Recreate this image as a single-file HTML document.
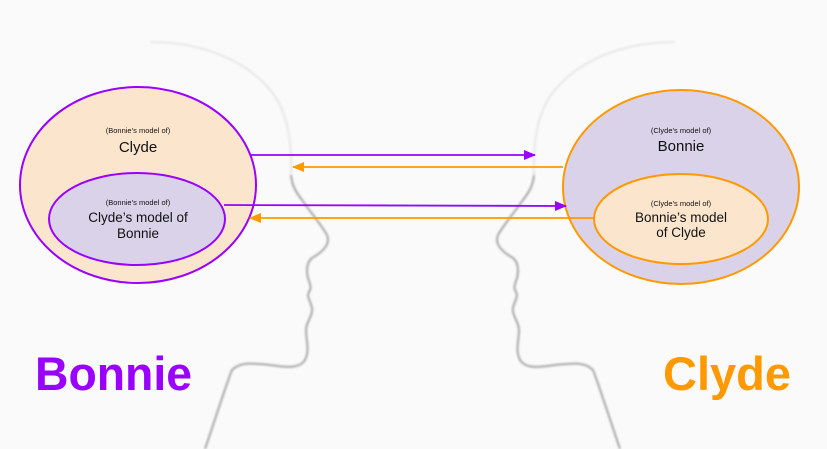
<!DOCTYPE html>
<html><head><style>
html,body{margin:0;padding:0;background:#fafafa;}
svg{display:block;}
text{font-family:"Liberation Sans",sans-serif;}
</style></head><body>
<svg width="827" height="449" viewBox="0 0 827 449" xmlns="http://www.w3.org/2000/svg">
<defs>
<filter id="bl" x="-20%" y="-20%" width="140%" height="140%"><feGaussianBlur stdDeviation="1"/></filter>
<marker id="mp" markerWidth="12" markerHeight="10" refX="11" refY="5" orient="auto" markerUnits="userSpaceOnUse"><path d="M0,0 L12,5 L0,10 Z" fill="#9900ff"/></marker>
<marker id="mo" markerWidth="12" markerHeight="10" refX="11" refY="5" orient="auto" markerUnits="userSpaceOnUse"><path d="M0,0 L12,5 L0,10 Z" fill="#ff9900"/></marker>
<g id="head">
<path d="M150,42 C205,42 250,62 274,95 C290,118 292,150 291,175" fill="none" stroke="#e2e2e2" stroke-width="1.6" filter="url(#bl)"/>
<path d="M291,175 C292,186 296,192 302,200 C312,214 322,226 327,235 C330,242 326,250 312,258 C307,262 306,270 308,278 C310,284 312,288 309,292 C306,296 311,302 312,308 C313,316 306,322 306,330 C306,340 310,350 305,360 C300,368 290,368 270,365 C250,363 240,362 232,370 C226,385 215,420 205,449" fill="none" stroke="#8a8a8a" stroke-width="1.5" filter="url(#bl)"/>
</g>
</defs>
<use href="#head"/>
<use href="#head" transform="translate(825,0) scale(-1,1)"/>

<ellipse cx="138" cy="185" rx="118" ry="98" fill="#fce5cd" stroke="#9900ff" stroke-width="2"/>
<ellipse cx="137" cy="219" rx="88" ry="46" fill="#d9d2e9" stroke="#9900ff" stroke-width="2"/>
<ellipse cx="681" cy="187" rx="118" ry="97" fill="#d9d2e9" stroke="#ff9900" stroke-width="2"/>
<ellipse cx="681" cy="219" rx="87" ry="45" fill="#fce5cd" stroke="#ff9900" stroke-width="2"/>

<line x1="251" y1="155" x2="535" y2="155" stroke="#9900ff" stroke-width="1.8" marker-end="url(#mp)"/>
<line x1="563" y1="167" x2="293" y2="167" stroke="#ff9900" stroke-width="1.8" marker-end="url(#mo)"/>
<line x1="224" y1="205" x2="566" y2="206" stroke="#9900ff" stroke-width="1.8" marker-end="url(#mp)"/>
<line x1="594" y1="218" x2="250" y2="218" stroke="#ff9900" stroke-width="1.8" marker-end="url(#mo)"/>

<g text-anchor="middle" fill="#111">
<text x="138" y="133" font-size="7.5">(Bonnie’s model of)</text>
<text x="138" y="152" font-size="15">Clyde</text>
<text x="138" y="205" font-size="7.5">(Bonnie’s model of)</text>
<text x="138" y="222" font-size="13.5">Clyde’s model of</text>
<text x="138" y="238" font-size="13.5">Bonnie</text>
<text x="681" y="133" font-size="7.5">(Clyde’s model of)</text>
<text x="681" y="151" font-size="15">Bonnie</text>
<text x="681" y="206" font-size="7.5">(Clyde’s model of)</text>
<text x="681" y="222" font-size="13.5">Bonnie’s model</text>
<text x="681" y="237" font-size="13.5">of Clyde</text>
</g>
<text x="35" y="390" font-size="47" font-weight="bold" fill="#9900ff" textLength="157" lengthAdjust="spacingAndGlyphs">Bonnie</text>
<text x="663" y="390" font-size="47" font-weight="bold" fill="#ff9900" textLength="128" lengthAdjust="spacingAndGlyphs">Clyde</text>
</svg>
</body></html>
